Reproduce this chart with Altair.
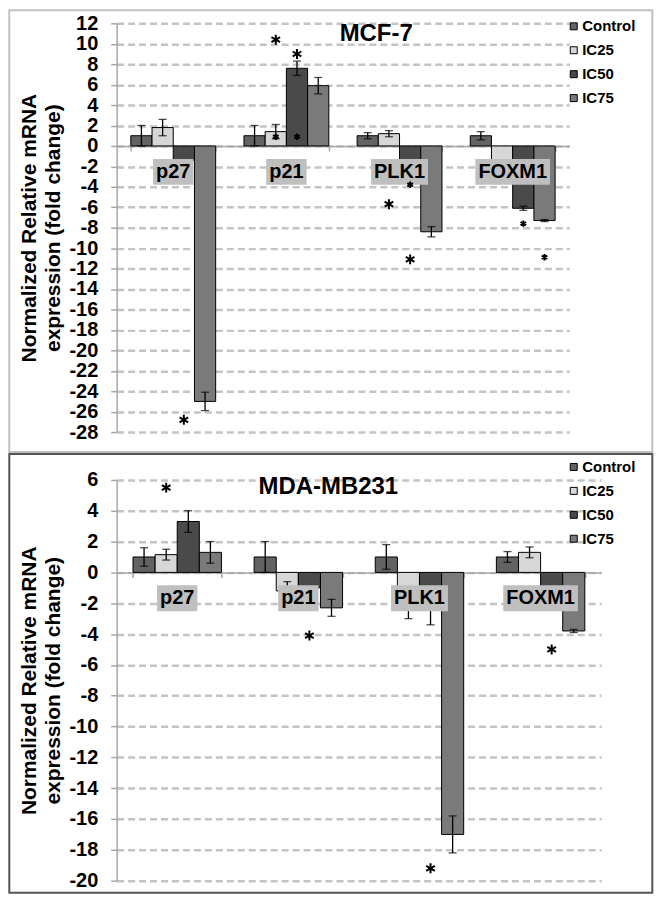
import altair as alt
import pandas as pd

GENES = ["p27", "p21", "PLK1", "FOXM1"]
SERIES = ["Control", "IC25", "IC50", "IC75"]
FILLS = ["#636363", "#d7d7d7", "#4a4a4a", "#7a7a7a"]
Y_TITLE = ["Normalized Relative mRNA", "expression (fold change)"]

# ---- MCF-7 ----
MCF_TITLE = "MCF-7"
MCF_TICKS = list(range(-28, 13, 2))
MCF_CONTROL = [1.0, 1.0, 1.0, 1.0]
MCF_IC25 = [1.8, 1.4, 1.2, -1.4]
MCF_IC50 = [-1.4, 7.6, -1.6, -6.1]
MCF_IC75 = [-25.0, 5.9, -8.4, -7.3]
MCF_ERR_CONTROL = [1.0, 1.0, 0.3, 0.4]
MCF_ERR_IC25 = [0.8, 0.7, 0.3, 0.0]
MCF_ERR_IC50 = [0.0, 0.7, 0.0, 0.2]
MCF_ERR_IC75 = [0.9, 0.8, 0.5, 0.1]
MCF_STAR_GENE = ["p27", "p21", "p21", "p21", "p21", "PLK1", "PLK1", "PLK1", "FOXM1", "FOXM1"]
MCF_STAR_SERIES = ["IC50", "IC25", "IC50", "IC25", "IC50", "IC50", "IC25", "IC50", "IC50", "IC75"]
MCF_STAR_Y = [-26.8, 10.4, 9.0, 0.9, 0.9, -3.8, -5.7, -11.1, -7.6, -10.9]
MCF_STAR_KIND = ["big", "big", "big", "small", "small", "small", "big", "big", "small", "small"]

# ---- MDA-MB231 ----
MDA_TITLE = "MDA-MB231"
MDA_TICKS = list(range(-20, 7, 2))
MDA_CONTROL = [1.0, 1.0, 1.0, 1.0]
MDA_IC25 = [1.15, -1.2, -2.2, 1.3]
MDA_IC50 = [3.3, -1.0, -2.3, -1.0]
MDA_IC75 = [1.3, -2.3, -17.0, -3.8]
MDA_ERR_CONTROL = [0.6, 1.0, 0.8, 0.35]
MDA_ERR_IC25 = [0.35, 0.6, 0.8, 0.35]
MDA_ERR_IC50 = [0.7, 0.0, 1.1, 0.0]
MDA_ERR_IC75 = [0.7, 0.55, 1.2, 0.1]
MDA_STAR_GENE = ["p27", "p21", "PLK1", "FOXM1"]
MDA_STAR_SERIES = ["IC25", "IC50", "IC50", "IC50"]
MDA_STAR_Y = [5.5, -4.1, -19.2, -5.0]
MDA_STAR_KIND = ["big", "big", "big", "big"]

ASTERISK = "M0,-1L0,1M-0.866,-0.5L0.866,0.5M-0.866,0.5L0.866,-0.5"
FONT = "Liberation Sans"
CHAR_W = {"p": 0.611, "2": 0.556, "7": 0.556, "1": 0.556, "P": 0.667, "L": 0.611,
          "K": 0.722, "F": 0.611, "O": 0.778, "X": 0.667, "M": 0.833}


def text_width(s, size=20):
    return sum(CHAR_W.get(c, 0.6) for c in s) * size


def panel(title, vals, errs, stars, ticks, width, height, pad_inner,
          frame, frame_color, title_xy, legend_y):
    rows = []
    for si, s in enumerate(SERIES):
        for gi, g in enumerate(GENES):
            v = vals[si][gi]
            e = errs[si][gi]
            rows.append(dict(gene=g, series=s, value=v, err=e, lo=v - e, hi=v + e))
    df = pd.DataFrame(rows)
    sg, ss, sy, sk = stars
    sdf = pd.DataFrame(dict(gene=sg, series=ss, y=sy, kind=sk))

    ymin, ymax = ticks[0], ticks[-1]
    y0px = height * ymax / (ymax - ymin)

    xax = alt.Axis(labels=False, title=None, grid=False, domainColor="#a6a6a6",
                   domainWidth=1.5, tickColor="#a6a6a6", tickWidth=1.5, tickSize=5,
                   tickBand="extent", offset=-(height - y0px))
    xsc = alt.Scale(domain=GENES, paddingInner=pad_inner, paddingOuter=pad_inner / 2)
    x = alt.X("gene:N", sort=GENES, scale=xsc, axis=xax)
    xo = alt.XOffset("series:N", sort=SERIES,
                     scale=alt.Scale(domain=SERIES, paddingInner=0, paddingOuter=0))
    ysc = alt.Scale(domain=[ymin, ymax], nice=False, zero=False)
    yax = alt.Axis(values=ticks, tickCount=len(ticks), title=Y_TITLE,
                   labelExpr="'' + datum.value", labelOverlap=False, labelBound=False,
                   labelFont=FONT, labelFontSize=20, labelFontWeight="bold",
                   labelColor="black", labelPadding=13, domainColor="#a6a6a6",
                   domainWidth=1.5, tickColor="#a6a6a6", tickSize=6, tickWidth=1.5,
                   gridColor="#c4c4c4", gridDash=[7, 4], gridWidth=2.5,
                   titleFont=FONT, titleFontSize=21, titleFontWeight="bold",
                   titleColor="black", titleLineHeight=24, titleX=-87,
                   titleY=height / 2, titleAngle=270, titleAlign="center",
                   titleBaseline="middle")

    def yenc(field):
        return alt.Y(f"{field}:Q", scale=ysc, axis=yax, stack=None)

    one = pd.DataFrame({"k": [0]})

    frame_layer = alt.Chart(one).mark_rect(fillOpacity=0, stroke=frame_color, strokeWidth=2).encode(
        x=alt.value(frame[0]), x2=alt.value(frame[1]),
        y=alt.value(frame[2]), y2=alt.value(frame[3]))

    bars = alt.Chart(df).mark_bar(stroke="black", strokeWidth=1).encode(
        x=x, xOffset=xo, y=yenc("value"),
        color=alt.Color("series:N", sort=SERIES,
                        scale=alt.Scale(domain=SERIES, range=FILLS),
                        legend=alt.Legend(orient="none", legendX=451, legendY=legend_y,
                                          title=None, symbolType="square", symbolSize=49,
                                          symbolStrokeColor="black", symbolStrokeWidth=1,
                                          labelFont=FONT, labelFontSize=15,
                                          labelFontWeight="bold", labelColor="black",
                                          rowPadding=8, labelOffset=1, padding=0)))

    err = alt.Chart(df).transform_filter("datum.err > 0")
    stems = err.mark_rule(color="black", strokeWidth=1.3).encode(
        x=x, xOffset=xo, y=yenc("lo"), y2="hi:Q")
    cap_hi = err.mark_tick(color="black", thickness=1.3, size=8, orient="horizontal").encode(
        x=x, xOffset=xo, y=yenc("hi"))
    cap_lo = err.mark_tick(color="black", thickness=1.3, size=8, orient="horizontal").encode(
        x=x, xOffset=xo, y=yenc("lo"))

    gdf = pd.DataFrame({"gene": GENES})
    boxes = []
    for g in GENES:
        boxes.append(
            alt.Chart(gdf).transform_filter(alt.datum.gene == g).mark_bar(
                color="#bfbfbf", width=text_width(g) + 6, yOffset=13, y2Offset=39
            ).encode(x=x, y=alt.YDatum(0), y2=alt.Y2Datum(0)))
    labels = alt.Chart(gdf).mark_text(font=FONT, fontSize=20, fontWeight="bold",
                                      color="black", dy=26, baseline="middle").encode(
        x=x, y=alt.YDatum(0), text="gene:N")

    star_layer = alt.Chart(sdf).mark_point(shape=ASTERISK, filled=False, color="black",
                                           strokeWidth=2, opacity=1).encode(
        x=x, xOffset=xo, y=yenc("y"),
        size=alt.Size("kind:N", scale=alt.Scale(domain=["big", "small"], range=[100, 42]),
                      legend=None))

    title_layer = alt.Chart(one).mark_text(text=title, font=FONT, fontSize=24,
                                           fontWeight="bold", color="black",
                                           align="center", baseline="middle").encode(
        x=alt.value(title_xy[0]), y=alt.value(title_xy[1]))

    return alt.layer(frame_layer, bars, stems, cap_hi, cap_lo, *boxes, labels,
                     star_layer, title_layer).properties(width=width, height=height)


top = panel(MCF_TITLE,
            [MCF_CONTROL, MCF_IC25, MCF_IC50, MCF_IC75],
            [MCF_ERR_CONTROL, MCF_ERR_IC25, MCF_ERR_IC50, MCF_ERR_IC75],
            (MCF_STAR_GENE, MCF_STAR_SERIES, MCF_STAR_Y, MCF_STAR_KIND),
            MCF_TICKS, 454, 410, 0.25,
            (-107.7, 537.3, -13, 430), "#c0c0c0", (260.3, 11), -4.5)

bottom = panel(MDA_TITLE,
               [MDA_CONTROL, MDA_IC25, MDA_IC50, MDA_IC75],
               [MDA_ERR_CONTROL, MDA_ERR_IC25, MDA_ERR_IC50, MDA_ERR_IC75],
               (MDA_STAR_GENE, MDA_STAR_SERIES, MDA_STAR_Y, MDA_STAR_KIND),
               MDA_TICKS, 486, 402, 0.27,
               (-107.7, 537.3, -26, 414), "#555555", (212.3, 7), -20.5)

chart = alt.vconcat(top, bottom, spacing=0, padding=0).resolve_scale(
    x="independent", y="independent", xOffset="independent",
    color="independent", size="independent"
).resolve_legend(color="independent", size="independent").configure_view(strokeWidth=0)

chart.save("out.html", embed_options={"renderer": "svg", "actions": False})
